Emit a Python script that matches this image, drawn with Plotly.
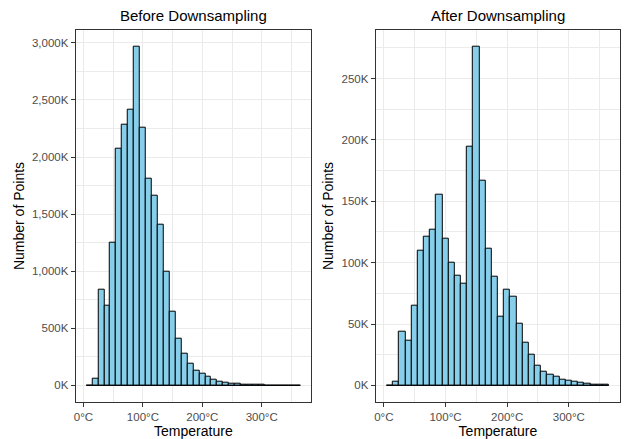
import plotly.graph_objects as go

# ---- data (counts in thousands) ----
bin_start = 5
bin_width = 10
before_counts = [0, 56, 835, 697, 1250, 2075, 2286, 2418, 2967, 2260, 1812, 1658,
                 1403, 1000, 641, 412, 279, 188, 129, 106, 74, 50, 35, 24, 18, 15,
                 9, 6, 5, 4, 0, 0, 0, 0, 0, 0]
after_counts = [0, 3, 43.6, 36.4, 65, 109.6, 121, 127, 155, 119.5, 100, 89.6, 82.7,
                194.8, 276, 166.5, 111, 88.8, 56, 78, 72, 50.4, 34.8, 24.7, 16.4,
                11.2, 9, 7.4, 4.7, 3.6, 3, 2.2, 1.4, 0.8, 0.5, 0.2]
titles = ["Before Downsampling", "After Downsampling"]
x_tick_vals = [0, 100, 200, 300]
x_tick_text = ["0°C", "100°C", "200°C", "300°C"]

W, H = 624, 439
centers = [bin_start + bin_width / 2 + i * bin_width for i in range(len(before_counts))]
edge_lo = bin_start
edge_hi = bin_start + bin_width * len(before_counts)

FONT = "Liberation Sans, Arial, sans-serif"
fill = "#87CEEB"
grid = "#EBEBEB"
border = "#333333"

fig = go.Figure()

panels = [
    (before_counts, (74, 310), 500),
    (after_counts, (375, 620), 50),
]
y_top, y_bot = 29.7, 402.3

for i, (counts, (px0, px1), dt) in enumerate(panels):
    n = "" if i == 0 else str(i + 1)
    fig.add_trace(go.Bar(x=centers, y=counts, width=bin_width,
                         marker=dict(color=fill, line=dict(color="black", width=1)),
                         xaxis="x" + n, yaxis="y" + n, showlegend=False))
    fig.add_trace(go.Scatter(x=[edge_lo, edge_hi], y=[0, 0], mode="lines",
                             line=dict(color="black", width=1),
                             xaxis="x" + n, yaxis="y" + n, showlegend=False))
    span = edge_hi - edge_lo
    ymax = max(counts)
    xa = dict(domain=[px0 / W, px1 / W], range=[edge_lo - 0.05 * span, edge_hi + 0.05 * span],
              tickvals=x_tick_vals, ticktext=x_tick_text,
              showgrid=True, gridcolor=grid, gridwidth=1,
              minor=dict(tickvals=[50, 150, 250, 350], showgrid=True, gridcolor=grid, gridwidth=0.6, ticks=""),
              showline=True, mirror=True, linecolor=border, linewidth=1.2,
              ticks="outside", ticklen=4, tickcolor=border, tickwidth=1,
              tickfont=dict(family=FONT, size=11.5, color="#4D4D4D"),
              title=dict(text="Temperature", font=dict(family=FONT, size=14, color="black"), standoff=4),
              zeroline=False, anchor="y" + n, fixedrange=True)
    ya = dict(domain=[1 - y_bot / H, 1 - y_top / H], range=[-0.05 * ymax, 1.05 * ymax],
              dtick=dt, tick0=0, tickformat=",d", ticksuffix="K",
              showgrid=True, gridcolor=grid, gridwidth=1,
              minor=dict(dtick=dt / 2, tick0=dt / 2, showgrid=True, gridcolor=grid, gridwidth=0.6, ticks=""),
              showline=True, mirror=True, linecolor=border, linewidth=1.2,
              ticks="outside", ticklen=4, tickcolor=border, tickwidth=1,
              tickfont=dict(family=FONT, size=11.5, color="#4D4D4D"),
              title=dict(text="Number of Points", font=dict(family=FONT, size=14, color="black"), standoff=4),
              zeroline=False, anchor="x" + n, fixedrange=True)
    fig.layout["xaxis" + n] = xa
    fig.layout["yaxis" + n] = ya
    fig.add_annotation(text=titles[i], x=(px0 + px1) / 2 / W, y=1 - 16 / H,
                       xref="paper", yref="paper", showarrow=False,
                       xanchor="center", yanchor="middle",
                       font=dict(family=FONT, size=15, color="black"))

fig.update_layout(width=W, height=H, margin=dict(l=0, r=0, t=0, b=0),
                  paper_bgcolor="white", plot_bgcolor="white", bargap=0)
fig.write_html("out.html", config={"displayModeBar": False},
               post_script="document.body.style.margin='0';document.body.style.overflow='hidden';")
